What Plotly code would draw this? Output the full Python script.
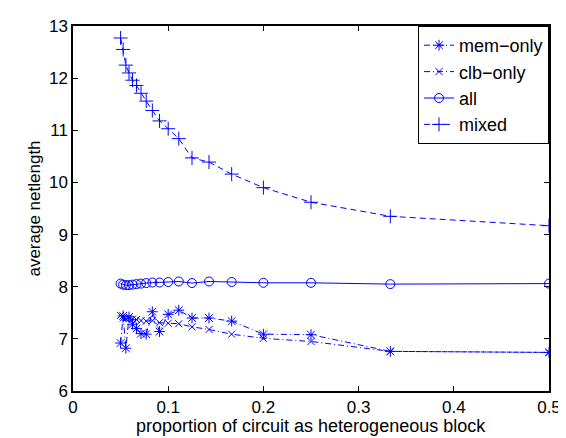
import plotly.graph_objects as go

n_blocks = list(range(20, 1, -1))
x_vals = [1.0 / n for n in n_blocks]

mem_only = [6.92, 7.44, 6.82, 7.42, 7.28, 7.20, 7.10, 7.09, 7.52, 7.14, 7.47,
            7.55, 7.40, 7.40, 7.34, 7.09, 7.08, 6.76, 6.74]
clb_only = [7.45, 7.40, 7.38, 7.39, 7.38, 7.37, 7.35, 7.34, 7.35, 7.31, 7.30,
            7.29, 7.23, 7.18, 7.09, 7.01, 6.95, 6.76, 6.74]
all_vals = [8.06, 8.04, 8.03, 8.03, 8.04, 8.05, 8.06, 8.07, 8.08, 8.08, 8.09,
            8.10, 8.07, 8.10, 8.09, 8.075, 8.075, 8.05, 8.06]
mixed = [12.77, 12.55, 12.25, 12.10, 11.96, 11.86, 11.71, 11.56, 11.38, 11.18, 11.03,
         10.84, 10.47, 10.39, 10.16, 9.90, 9.62, 9.35, 9.17]

x_ticks = [0, 0.1, 0.2, 0.3, 0.4, 0.5]
x_tick_labels = ["0", "0.1", "0.2", "0.3", "0.4", "0.5"]
y_ticks = [6, 7, 8, 9, 10, 11, 12, 13]

blue = "#0000ff"
font_family = "Liberation Sans, Arial, sans-serif"

fig = go.Figure()
fig.add_trace(go.Scatter(x=x_vals, y=mem_only, name="mem\u2212only", mode="lines+markers",
                         line=dict(color=blue, width=1, dash="6px,3px,1px,3px"),
                         marker=dict(symbol="asterisk-open", size=9, color=blue,
                                     line=dict(color=blue, width=1))))
fig.add_trace(go.Scatter(x=x_vals, y=clb_only, name="clb\u2212only", mode="lines+markers",
                         line=dict(color=blue, width=1, dash="6px,3px,1px,3px"),
                         marker=dict(symbol="x-thin-open", size=7, color=blue,
                                     line=dict(color=blue, width=1))))
fig.add_trace(go.Scatter(x=x_vals, y=all_vals, name="all", mode="lines+markers",
                         line=dict(color=blue, width=1),
                         marker=dict(symbol="circle-open", size=9, color=blue,
                                     line=dict(color=blue, width=1))))
fig.add_trace(go.Scatter(x=x_vals, y=mixed, name="mixed", mode="lines+markers",
                         line=dict(color=blue, width=1, dash="6px,4px"),
                         marker=dict(symbol="cross-thin-open", size=10, color=blue,
                                     line=dict(color=blue, width=1))))

axis_common = dict(showline=True, linecolor="black", linewidth=1.5, mirror="ticks",
                   ticks="inside", ticklen=5, tickcolor="black", showgrid=False,
                   zeroline=False, tickfont=dict(size=17, color="black", family=font_family))

fig.update_layout(
    width=566, height=438,
    margin=dict(l=65, r=25, t=9, b=55),
    paper_bgcolor="white", plot_bgcolor="white",
    font=dict(family=font_family, size=18, color="black"),
    xaxis=dict(range=[0, 0.5], tickvals=x_ticks, ticktext=x_tick_labels, **axis_common),
    yaxis=dict(range=[6, 13], tickvals=y_ticks,
               title=dict(text="average netlength", font=dict(size=17), standoff=4),
               **axis_common),
    legend=dict(x=1, y=1, xanchor="right", yanchor="top", bordercolor="black",
                borderwidth=1, bgcolor="white", font=dict(size=18),
                tracegroupgap=0, itemwidth=30),
    showlegend=True,
    annotations=[dict(text="proportion of circuit as heterogeneous block",
                      xref="paper", yref="paper", x=0.5, y=0, xanchor="center",
                      yanchor="top", yshift=-23, showarrow=False,
                      font=dict(size=18, color="black"))],
)

fig.write_html("out.html")
